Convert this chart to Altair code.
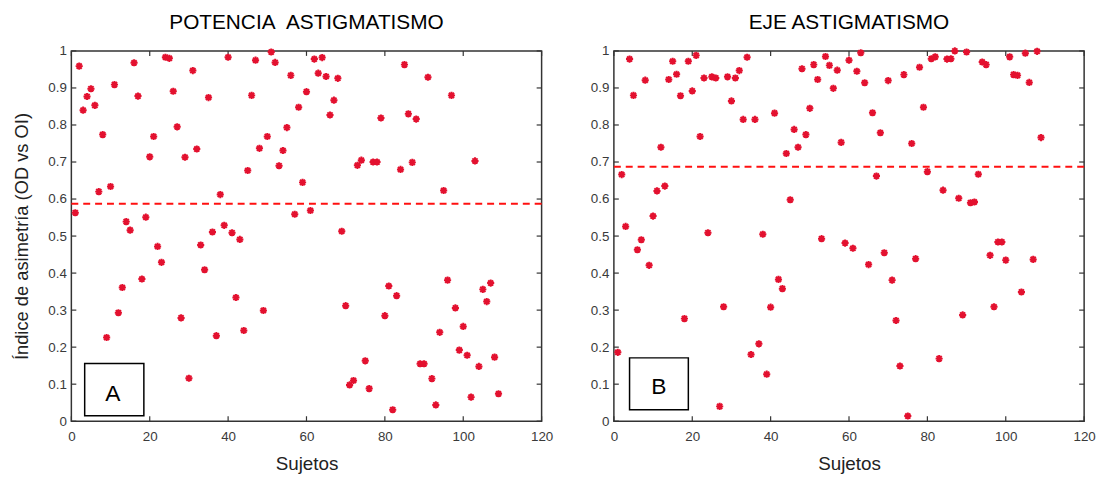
import altair as alt
import pandas as pd

# ---------------- data ----------------
subjects = list(range(1, 110))

potencia = [
    0.563, 0.959, 0.840, 0.877, 0.898, 0.853, 0.620, 0.774, 0.226, 0.634,
    0.909, 0.293, 0.361, 0.539, 0.516, 0.968, 0.878, 0.384, 0.551, 0.714,
    0.769, 0.472, 0.429, 0.983, 0.980, 0.891, 0.795, 0.279, 0.713, 0.116,
    0.947, 0.735, 0.476, 0.409, 0.874, 0.511, 0.231, 0.612, 0.529, 0.983,
    0.509, 0.334, 0.491, 0.245, 0.677, 0.880, 0.975, 0.737, 0.299, 0.769,
    0.997, 0.969, 0.690, 0.731, 0.793, 0.934, 0.559, 0.848, 0.645, 0.890,
    0.569, 0.978, 0.940, 0.982, 0.931, 0.827, 0.867, 0.926, 0.513, 0.312,
    0.098, 0.110, 0.691, 0.705, 0.163, 0.088, 0.700, 0.700, 0.819, 0.285,
    0.365, 0.031, 0.339, 0.680, 0.963, 0.830, 0.699, 0.816, 0.155, 0.155,
    0.929, 0.115, 0.044, 0.240, 0.623, 0.381, 0.880, 0.306, 0.192, 0.256,
    0.178, 0.065, 0.703, 0.148, 0.356, 0.323, 0.373, 0.173, 0.074,
]

eje = [
    0.186, 0.666, 0.526, 0.978, 0.880, 0.463, 0.490, 0.921, 0.421, 0.554,
    0.622, 0.740, 0.635, 0.923, 0.972, 0.937, 0.879, 0.277, 0.972, 0.892,
    0.988, 0.769, 0.927, 0.509, 0.930, 0.927, 0.040, 0.309, 0.930, 0.865,
    0.927, 0.947, 0.815, 0.983, 0.180, 0.815, 0.209, 0.505, 0.127, 0.308,
    0.832, 0.383, 0.358, 0.723, 0.598, 0.788, 0.740, 0.952, 0.774, 0.845,
    0.963, 0.923, 0.493, 0.985, 0.961, 0.899, 0.948, 0.753, 0.481, 0.975,
    0.467, 0.945, 0.995, 0.914, 0.423, 0.833, 0.662, 0.779, 0.455, 0.920,
    0.381, 0.272, 0.149, 0.936, 0.014, 0.750, 0.439, 0.956, 0.848, 0.674,
    0.979, 0.984, 0.169, 0.624, 0.978, 0.979, 1.000, 0.602, 0.287, 0.997,
    0.590, 0.592, 0.667, 0.970, 0.963, 0.448, 0.309, 0.484, 0.484, 0.435,
    0.984, 0.936, 0.934, 0.349, 0.994, 0.915, 0.437, 0.999, 0.766,
]

means = [0.587, 0.687]
titles = ["POTENCIA\u00a0 ASTIGMATISMO", "EJE ASTIGMATISMO"]
letters = ["A", "B"]
box_x1 = [3.4, 4.0]
box_x2 = [18.5, 19.0]
box_y1 = [0.015, 0.031]
box_y2 = [0.156, 0.171]
letter_x = [10.6, 11.5]
letter_y = [0.072, 0.092]

x_ticks = [0, 20, 40, 60, 80, 100, 120]
y_ticks = [0, 0.1, 0.2, 0.3, 0.4, 0.5, 0.6, 0.7, 0.8, 0.9, 1.0]

# ---------------- style ----------------
W, H = 475, 374
FONT = "Liberation Sans"
PT_COLOR = "#e3112f"
TICK = 5
ASTERISK = "M-1,0L1,0M0,-1L0,1M-0.72,-0.72L0.72,0.72M-0.72,0.72L0.72,-0.72"


def xenc(field="x"):
    return alt.X(
        f"{field}:Q",
        scale=alt.Scale(domain=[0, 120], nice=False, zero=False),
        axis=alt.Axis(values=x_ticks, title="Sujetos", ticks=False, tickSize=0,
                      labelFlush=False, domain=False, grid=False,
                      labelPadding=8, titlePadding=12),
    )


def yenc(show_title, field="y"):
    ax = dict(values=y_ticks, format="~g", ticks=False, tickSize=0, domain=False,
              labelFlush=False, grid=False, labelPadding=5, titlePadding=17)
    ax["title"] = "Índice de asimetría (OD vs OI)" if show_title else ""
    return alt.Y(f"{field}:Q", scale=alt.Scale(domain=[0, 1], nice=False),
                 axis=alt.Axis(**ax))


def panel(i, values, show_ytitle):
    df = pd.DataFrame({"x": subjects, "y": values})
    pts = alt.Chart(df).mark_point(
        shape=ASTERISK, size=52, filled=False, strokeWidth=2, color=PT_COLOR, opacity=1
    ).encode(x=xenc(), y=yenc(show_ytitle))

    mean_df = pd.DataFrame({"y": [means[i]]})
    mean_rule = alt.Chart(mean_df).mark_rule(
        color="#ff1010", strokeWidth=2, strokeDash=[7, 5]
    ).encode(y=yenc(show_ytitle))

    xt = pd.DataFrame({"x": x_ticks})
    yt = pd.DataFrame({"y": y_ticks})
    tick_style = dict(color="#333333", strokeWidth=1.2)
    xb = alt.Chart(xt).mark_rule(**tick_style).encode(
        x=xenc(), y=alt.value(H), y2=alt.value(H - TICK))
    xtop = alt.Chart(xt).mark_rule(**tick_style).encode(
        x=xenc(), y=alt.value(0), y2=alt.value(TICK))
    yl = alt.Chart(yt).mark_rule(**tick_style).encode(
        y=yenc(show_ytitle), x=alt.value(0), x2=alt.value(TICK))
    yr = alt.Chart(yt).mark_rule(**tick_style).encode(
        y=yenc(show_ytitle), x=alt.value(W - TICK), x2=alt.value(W))

    box_df = pd.DataFrame({"x": [box_x1[i]], "x2": [box_x2[i]],
                           "y": [box_y1[i]], "y2": [box_y2[i]]})
    box = alt.Chart(box_df).mark_rect(
        fill="white", stroke="black", strokeWidth=1.5
    ).encode(x=xenc(), x2="x2:Q", y=yenc(show_ytitle), y2="y2:Q")

    lab_df = pd.DataFrame({"x": [letter_x[i]], "y": [letter_y[i]], "t": [letters[i]]})
    lab = alt.Chart(lab_df).mark_text(
        font=FONT, fontSize=23, color="black", baseline="middle", align="center"
    ).encode(x=xenc(), y=yenc(show_ytitle), text="t:N")

    return alt.layer(xb, xtop, yl, yr, mean_rule, pts, box, lab).properties(
        width=W, height=H,
        title=alt.TitleParams(titles[i], fontSize=21, font=FONT, fontWeight="normal",
                              color="black", offset=11),
    )


a = panel(0, potencia, True)
b = panel(1, eje, False)

chart = alt.hconcat(a, b, spacing=35).properties(
    padding={"left": 3, "top": 0, "right": 0, "bottom": 0}
).configure_view(
    stroke="#333333", strokeWidth=1.5
).configure_axis(
    labelFont=FONT, labelFontSize=13.5, labelColor="#3a3a3a",
    titleFont=FONT, titleFontSize=19, titleColor="#222222", titleFontWeight="normal",
).configure_axisY(titleFontSize=18.5)

chart.save("out.html", embed_options={"renderer": "svg", "actions": False})
